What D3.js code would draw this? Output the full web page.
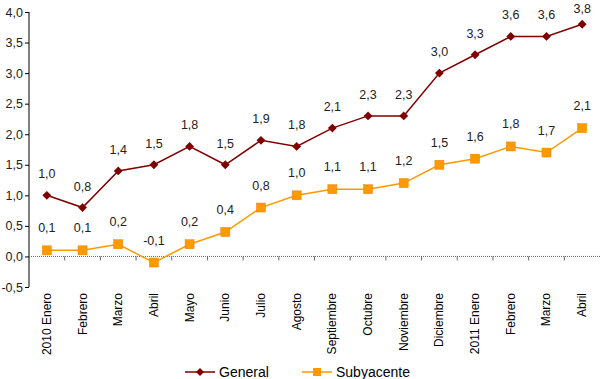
<!DOCTYPE html>
<html>
<head>
<meta charset="utf-8">
<script src="https://cdn.jsdelivr.net/npm/d3@7/dist/d3.min.js"></script>
<style>
  body { margin: 0; background: #fff; }
  text { font-family: Arial, "Liberation Sans", sans-serif; }
</style>
</head>
<body>
<div id="chart"></div>
<script>
// categories (months)
var months = ["2010 Enero", "Febrero", "Marzo", "Abril", "Mayo", "Junio", "Julio", "Agosto",
  "Septiembre", "Octubre", "Noviembre", "Diciembre", "2011 Enero", "Febrero", "Marzo", "Abril"];
// series values
var general = [1.0, 0.8, 1.4, 1.5, 1.8, 1.5, 1.9, 1.8, 2.1, 2.3, 2.3, 3.0, 3.3, 3.6, 3.6, 3.8];
var subyacente = [0.1, 0.1, 0.2, -0.1, 0.2, 0.4, 0.8, 1.0, 1.1, 1.1, 1.2, 1.5, 1.6, 1.8, 1.7, 2.1];
// y tick values
var yTicks = [-0.5, 0, 0.5, 1, 1.5, 2, 2.5, 3, 3.5, 4];

var width = 600, height = 379;
var margin = { top: 12, right: 0, bottom: 92, left: 29 };

var svg = d3.select("#chart").append("svg")
  .attr("width", width)
  .attr("height", height);

//number format with comma and plain hyphen
var fmt = function(d) { return d3.format(".1f")(d).replace(".", ",").replace("\u2212", "-"); };

//scales
var x = d3.scaleBand()
  .domain(d3.range(months.length))
  .range([margin.left, width - margin.right]);
var y = d3.scaleLinear()
  .domain([-0.5, 4])
  .range([height - margin.bottom, margin.top]);

//y axis
var yAxis = svg.append("g")
  .attr("transform", "translate(" + margin.left + ",0)")
  .call(d3.axisLeft(y).tickValues(yTicks).tickSize(4).tickFormat(fmt));
yAxis.attr("font-family", null);
yAxis.select(".domain").attr("stroke", "#000").attr("d", "M0," + y(4) + "V" + y(-0.5));
yAxis.selectAll(".tick line").attr("stroke", "#000");
yAxis.selectAll(".tick text")
  .attr("x", -6)
  .style("font-size", "12.5px")
  .attr("fill", "#222");

//zero line (dotted) with ticks at category boundaries
svg.append("line")
  .attr("x1", margin.left)
  .attr("x2", width - margin.right)
  .attr("y1", y(0))
  .attr("y2", y(0))
  .attr("stroke", "#666")
  .attr("stroke-dasharray", "1,1");
svg.selectAll(".xtick")
  .data(d3.range(1, months.length))
  .enter().append("line")
  .attr("x1", function(d) { return x(d); })
  .attr("x2", function(d) { return x(d); })
  .attr("y1", y(0))
  .attr("y2", y(0) + 4)
  .attr("stroke", "#666");

//x labels rotated
svg.selectAll(".xlabel")
  .data(months)
  .enter().append("text")
  .attr("transform", function(d, i) {
    return "translate(" + (x(i) + x.bandwidth() / 2 + 4) + "," + (y(-0.5) + 6) + ") rotate(-90)";
  })
  .style("text-anchor", "end")
  .style("font-size", "12px")
  .attr("fill", "#000")
  .text(function(d) { return d; });

var cx = function(d, i) { return x(i) + x.bandwidth() / 2; };

//general line
svg.append("path")
  .datum(general)
  .attr("fill", "none")
  .attr("stroke", "#800000")
  .attr("stroke-width", 1.5)
  .attr("d", d3.line().x(cx).y(function(d) { return y(d); }));
svg.selectAll(".gpt")
  .data(general)
  .enter().append("path")
  .attr("d", d3.symbol().type(d3.symbolDiamond2).size(50))
  .attr("transform", function(d, i) { return "translate(" + cx(d, i) + "," + y(d) + ")"; })
  .attr("fill", "#800000");

//subyacente line
svg.append("path")
  .datum(subyacente)
  .attr("fill", "none")
  .attr("stroke", "#FF9900")
  .attr("stroke-width", 1.5)
  .attr("d", d3.line().x(cx).y(function(d) { return y(d); }));
svg.selectAll(".spt")
  .data(subyacente)
  .enter().append("rect")
  .attr("x", function(d, i) { return cx(d, i) - 4.5; })
  .attr("y", function(d) { return y(d) - 4.5; })
  .attr("width", 9)
  .attr("height", 9)
  .attr("fill", "#FF9900")
  .attr("stroke", "#F08000")
  .attr("stroke-width", 0.5);

//data labels (kept inside the top edge)
svg.selectAll(".glabel")
  .data(general)
  .enter().append("text")
  .attr("x", cx)
  .attr("y", function(d) { return Math.max(y(d) - 17, 13); })
  .style("text-anchor", "middle")
  .style("font-size", "12.5px")
  .attr("fill", "#222")
  .text(fmt);
svg.selectAll(".slabel")
  .data(subyacente)
  .enter().append("text")
  .attr("x", cx)
  .attr("y", function(d) { return y(d) - 18; })
  .style("text-anchor", "middle")
  .style("font-size", "12.5px")
  .attr("fill", "#222")
  .text(fmt);

//legend
var legend = [
  { name: "General", color: "#800000", x: 185 },
  { name: "Subyacente", color: "#FF9900", x: 302 }
];
var ly = 372;
legend.forEach(function(l, k) {
  svg.append("line")
    .attr("x1", l.x).attr("x2", l.x + 30)
    .attr("y1", ly).attr("y2", ly)
    .attr("stroke", l.color)
    .attr("stroke-width", 1.5);
  if (k == 0) {
    svg.append("path")
      .attr("d", d3.symbol().type(d3.symbolDiamond2).size(40))
      .attr("transform", "translate(" + (l.x + 15) + "," + ly + ")")
      .attr("fill", l.color);
  } else {
    svg.append("rect")
      .attr("x", l.x + 11).attr("y", ly - 4)
      .attr("width", 8).attr("height", 8)
      .attr("fill", l.color);
  }
  svg.append("text")
    .attr("x", l.x + 34)
    .attr("y", ly + 5)
    .style("font-size", "14px")
    .attr("fill", "#000")
    .text(l.name);
});
</script>
</body>
</html>
